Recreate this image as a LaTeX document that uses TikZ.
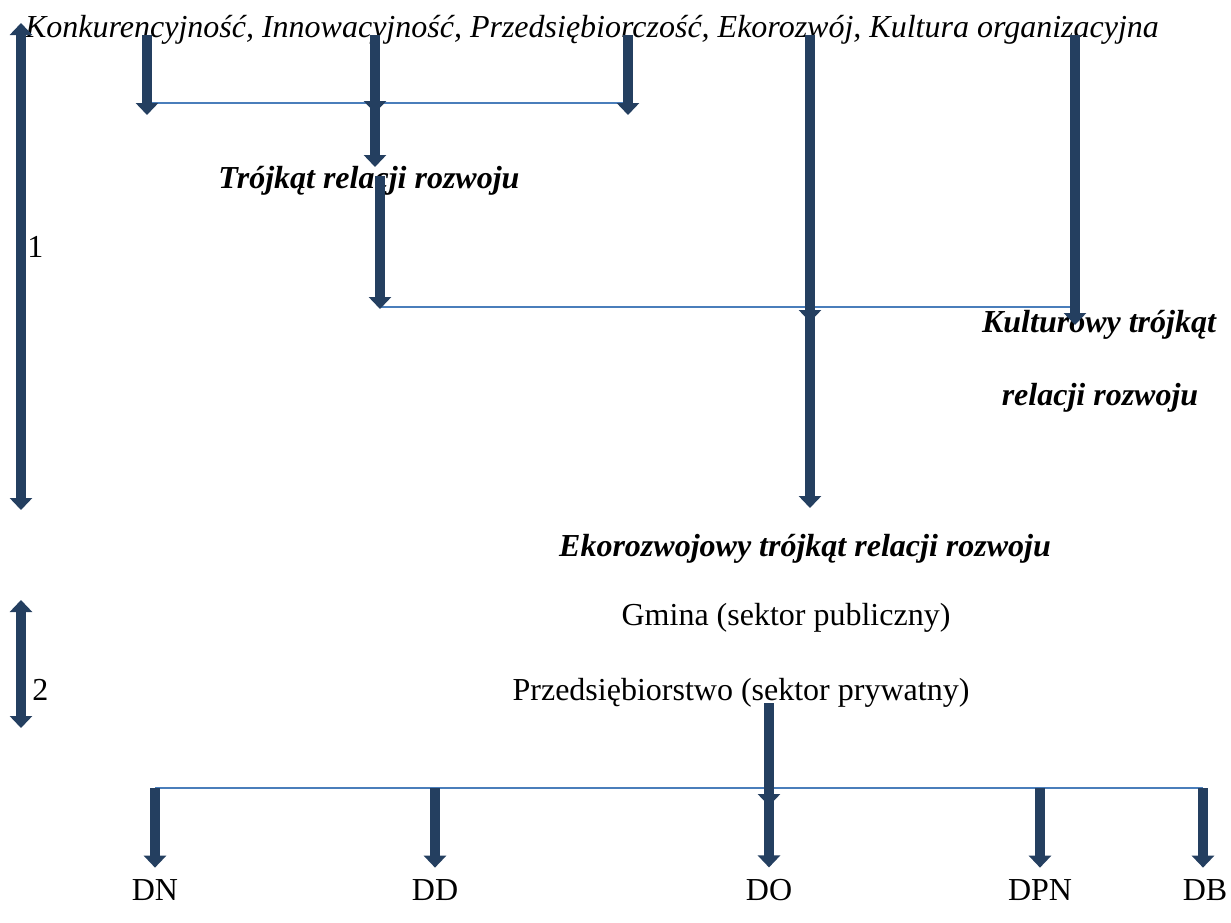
\documentclass[tikz,border=0pt]{standalone}
\usepackage{fontspec}
\setmainfont{Liberation Serif}
\usetikzlibrary{arrows.meta}
\definecolor{arrowblue}{RGB}{36,63,96}
\definecolor{lineblue}{RGB}{74,126,187}
\tikzset{
  fat/.style={arrowblue, line width=5pt, -{Triangle[width=11pt,length=6pt]}},
  fatboth/.style={arrowblue, line width=5pt, {Triangle[width=11pt,length=6pt]}-{Triangle[width=11pt,length=6pt]}},
  link/.style={lineblue, line width=1pt},
  lbl/.style={inner sep=0pt, anchor=base, font=\fontsize{16}{19}\selectfont},
  heading/.style={lbl, font=\fontsize{16}{19}\selectfont\bfseries\itshape}
}

\begin{document}
\begin{tikzpicture}[x=0.5pt, y=-0.5pt]
\useasboundingbox (0,0) rectangle (1231,922);
%texts
\node[lbl, font=\fontsize{16}{19}\selectfont\itshape] (factors) at (592,37) {Konkurencyjność, Innowacyjność, Przedsiębiorczość, Ekorozwój, Kultura organizacyjna};
\node[heading] (triangle) at (369,188) {Trójkąt relacji rozwoju};
\node[heading] (culture) at (1099,332) {Kulturowy trójkąt};
\node[heading] (culture2) at (1100,405) {relacji rozwoju};
\node[heading] (eco) at (805,556) {Ekorozwojowy trójkąt relacji rozwoju};
\node[lbl] (gmina) at (786,625) {Gmina (sektor publiczny)};
\node[lbl] (firm) at (741,700) {Przedsiębiorstwo (sektor prywatny)};
\node[lbl, anchor=base west] (one) at (27,257) {1};
\node[lbl, anchor=base west] (two) at (32,700) {2};
\foreach \x/\n/\t in {155/dn/DN, 435/dd/DD, 769/do/DO, 1040/dpn/DPN, 1205/db/DB}
  \node[lbl] (\n) at (\x,900) {\t};

%junctions
\coordinate (k1) at (147,35);
\coordinate (k2) at (375,35);
\coordinate (k3) at (628,35);
\coordinate (k4) at (810,35);
\coordinate (k5) at (1075,35);
\coordinate (a1) at (147,103);
\coordinate (a3) at (628,103);
\coordinate (b1) at (380,307);
\coordinate (b2) at (1077,307);
\coordinate (c0) at (769,703);
\coordinate (c1) at (155,788);
\coordinate (c2) at (1203,788);

%horizontal
\draw[link] (a1) -- (a3);
\draw[link] (b1) -- (b2);
\draw[link] (c1) -- (c2);

%vertical
\draw[fatboth] (21,23) -- (21,510);
\draw[fatboth] (21,600) -- (21,728);
\draw[fat] (k1) -- (147,115);
\draw[fat] (k3) -- (628,115);
\draw[fat] (k2) -- (375,113);
\draw[fat] (375,100) -- (375,167);
\draw[fat] (380,176) -- (380,309);
\draw[fat] (k5) -- (1075,325);
\draw[fat] (k4) -- (810,322);
\draw[fat] (810,306) -- (810,508);
\draw[fat] (c0) -- (769,806);
\foreach \n in {dn,dd,do,dpn}
  \draw[fat, shorten >=5.5pt] (c1 -| \n) -- (\n);
\draw[fat, shorten >=5.5pt] (c2) -- (c2 |- db.north);
\end{tikzpicture}
\end{document}
